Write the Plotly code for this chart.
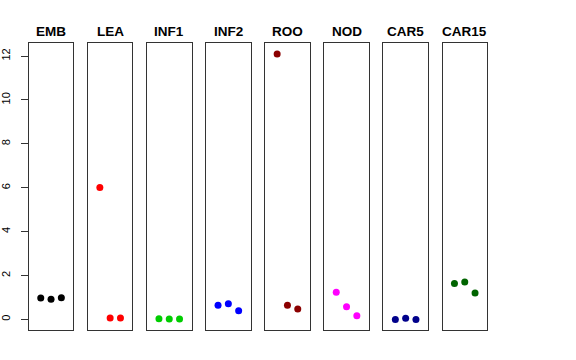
import plotly.graph_objects as go

categories = ["EMB", "LEA", "INF1", "INF2", "ROO", "NOD", "CAR5", "CAR15"]
emb = [0.97, 0.92, 0.99]
lea = [6.01, 0.06, 0.06]
inf1 = [0.03, 0.02, 0.02]
inf2 = [0.64, 0.71, 0.39]
roo = [12.1, 0.64, 0.47]
nod = [1.24, 0.58, 0.17]
car5 = [0.0, 0.05, 0.0]
car15 = [1.64, 1.70, 1.20]
series = [emb, lea, inf1, inf2, roo, nod, car5, car15]
colors = ["#000000", "#FF0000", "#00CD00", "#0000FF", "#8B0000", "#FF00FF", "#00008B", "#006400"]
replicates = [1, 2, 3]
y_ticks = [0, 2, 4, 6, 8, 10, 12]

W, H = 576, 360
left0, step, pw = 28.8, 59.1, 44.5
top, bottom = 43.3, 330.0
title_y = 31

fig = go.Figure()
layout = dict(
    width=W, height=H, margin=dict(l=0, r=0, t=0, b=0, autoexpand=False),
    paper_bgcolor="white", plot_bgcolor="white", showlegend=False,
    font=dict(family="Liberation Sans, Arial, sans-serif", color="black"),
)
annotations = []
for i, (cat, vals, col) in enumerate(zip(categories, series, colors)):
    n = "" if i == 0 else str(i + 1)
    fig.add_trace(go.Scatter(
        x=replicates, y=vals, mode="markers",
        marker=dict(color=col, size=7, line=dict(width=0)),
        xaxis="x" + n, yaxis="y" + n, cliponaxis=False,
    ))
    x0 = (left0 + step * i) / W
    x1 = (left0 + step * i + pw) / W
    layout["xaxis" + n] = dict(
        domain=[x0, x1], range=[-0.16, 4.16], showgrid=False, zeroline=False,
        showticklabels=False, ticks="", showline=True, mirror=True,
        linecolor="#333333", linewidth=1, anchor="y" + n, fixedrange=True,
        automargin=False,
    )
    ya = dict(
        domain=[1 - bottom / H, 1 - top / H], range=[-0.484, 12.584],
        showgrid=False, zeroline=False, showline=True, mirror=True,
        linecolor="#333333", linewidth=1, anchor="x" + n, fixedrange=True,
        automargin=False,
    )
    if i == 0:
        ya.update(ticks="outside", ticklen=7, tickcolor="#333333", tickwidth=1,
                  tickvals=y_ticks, ticktext=[str(v) for v in y_ticks],
                  tickangle=-90, tickfont=dict(size=11, color="black"),
                  ticklabelstandoff=6, showticklabels=True)
    else:
        ya.update(showticklabels=False, ticks="")
    layout["yaxis" + n] = ya
    annotations.append(dict(
        x=(x0 + x1) / 2, y=1 - title_y / H, xref="paper", yref="paper",
        text="<b>" + cat + "</b>", showarrow=False,
        font=dict(size=13.5, color="black"), xanchor="center", yanchor="middle",
    ))
layout["annotations"] = annotations
fig.update_layout(**layout)
fig.write_html("out.html", config={"displayModeBar": False},
               post_script="document.body.style.margin='0px';")
